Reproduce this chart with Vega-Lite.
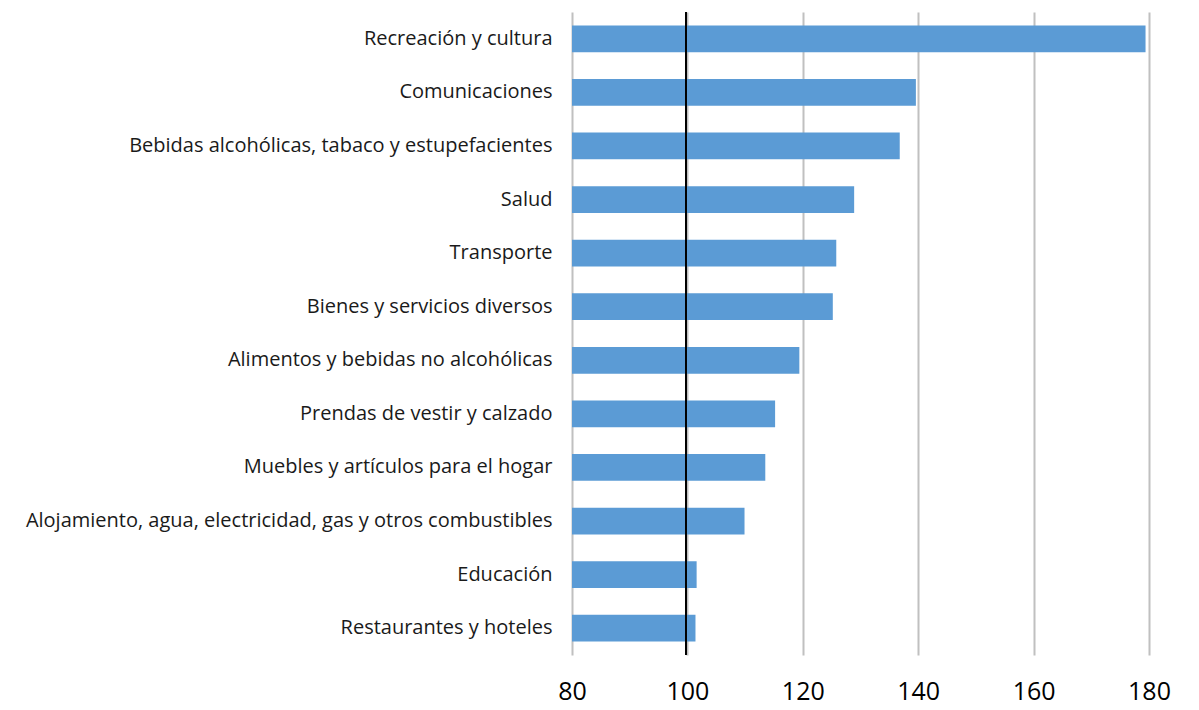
{
  "$schema": "https://vega.github.io/schema/vega-lite/v6.json",
  "autosize": "none",
  "width": 577,
  "height": 643,
  "padding": {"left": 572, "top": 12, "right": 50, "bottom": 55},
  "background": "white",
  "config": {"view": {"stroke": null}, "font": "Open Sans"},
  "data": {"values": [
    {"categoria": "Recreación y cultura", "valor": 179.4},
    {"categoria": "Comunicaciones", "valor": 139.6},
    {"categoria": "Bebidas alcohólicas, tabaco y estupefacientes", "valor": 136.8},
    {"categoria": "Salud", "valor": 128.9},
    {"categoria": "Transporte", "valor": 125.8},
    {"categoria": "Bienes y servicios diversos", "valor": 125.2},
    {"categoria": "Alimentos y bebidas no alcohólicas", "valor": 119.4},
    {"categoria": "Prendas de vestir y calzado", "valor": 115.2},
    {"categoria": "Muebles y artículos para el hogar", "valor": 113.5},
    {"categoria": "Alojamiento, agua, electricidad, gas y otros combustibles", "valor": 109.9},
    {"categoria": "Educación", "valor": 101.6},
    {"categoria": "Restaurantes y hoteles", "valor": 101.4}
  ]},
  "layer": [
    {
      "mark": {"type": "bar", "color": "#5b9bd5"},
      "encoding": {
        "y": {
          "field": "categoria", "type": "nominal", "sort": "-x",
          "scale": {"paddingInner": 0.5, "paddingOuter": 0.25},
          "axis": {"title": null, "ticks": false, "domain": false, "labelFontSize": 20, "labelColor": "#1a1a1a", "labelPadding": 20, "labelLimit": 600, "labelFont": "Open Sans"}
        },
        "x": {
          "field": "valor", "type": "quantitative",
          "scale": {"domain": [80, 180], "nice": false, "clamp": true},
          "axis": {"title": null, "values": [80, 100, 120, 140, 160, 180], "ticks": false, "domain": false, "grid": true, "gridColor": "#c0c0c0", "gridWidth": 2, "labelFontSize": 25, "labelColor": "#000000", "labelPadding": 24, "labelFont": "Open Sans", "labelFlush": false}
        }
      }
    },
    {
      "mark": {"type": "rule", "color": "#000000", "strokeWidth": 1.2},
      "encoding": {"x": {"datum": 99.7, "type": "quantitative"}}
    }
  ]
}
